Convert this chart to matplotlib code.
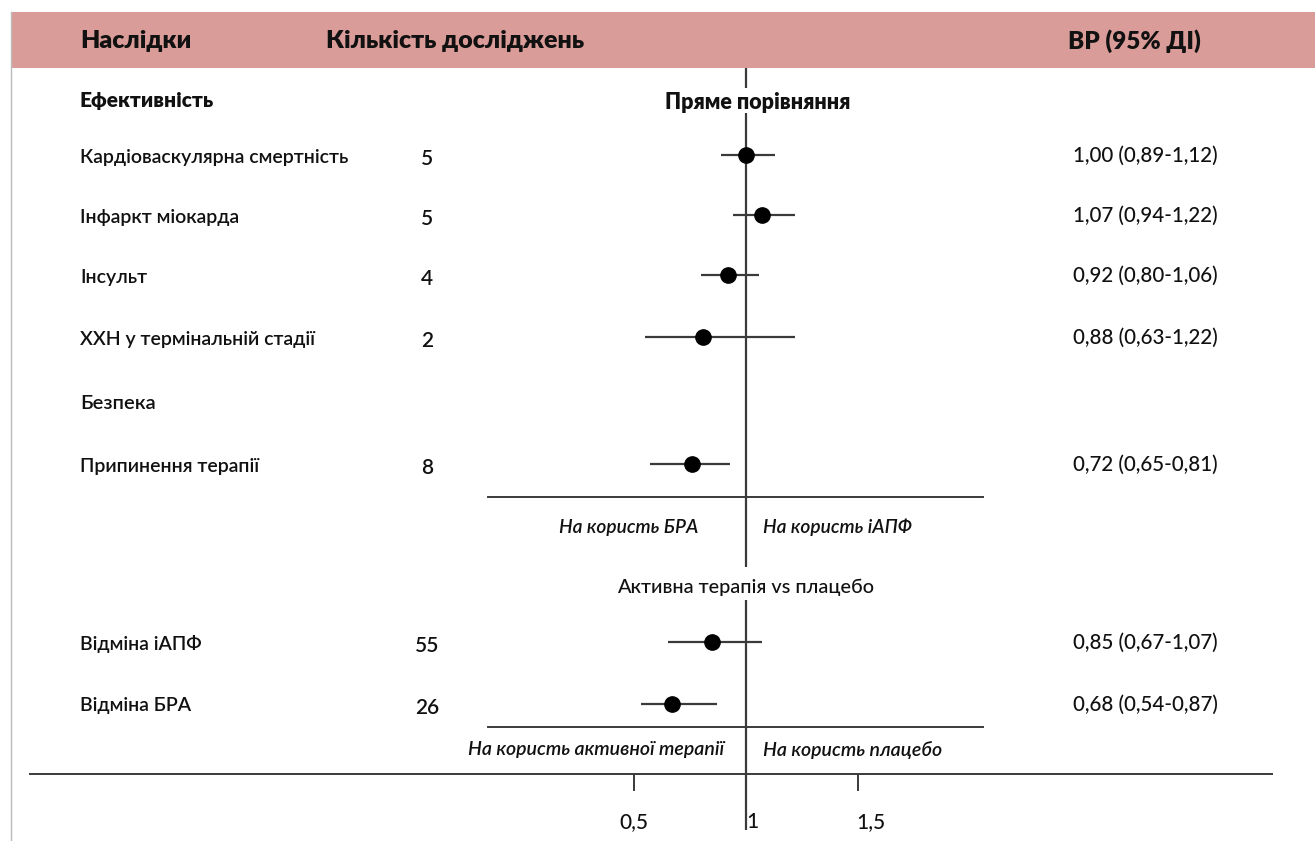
import matplotlib
matplotlib.use("Agg")
import matplotlib.pyplot as plt
import matplotlib.transforms as mtransforms
from matplotlib.patches import Rectangle

plt.rcParams['font.family'] = ['Lato', 'DejaVu Sans']

# ==============================
# Дані
# ==============================
outcomes = ['Кардіоваскулярна смертність', 'Інфаркт міокарда', 'Інсульт',
            'ХХН у термінальній стадії', 'Припинення терапії',
            'Відміна іАПФ', 'Відміна БРА']
n_studies = ['5', '5', '4', '2', '8', '55', '26']
rr_text = ['1,00 (0,89-1,12)', '1,07 (0,94-1,22)', '0,92 (0,80-1,06)',
           '0,88 (0,63-1,22)', '0,72 (0,65-0,81)', '0,85 (0,67-1,07)',
           '0,68 (0,54-0,87)']
# точки та інтервали так, як вони намальовані
est = [1.00, 1.07, 0.92, 0.81, 0.76, 0.85, 0.67]
lo = [0.89, 0.94, 0.80, 0.55, 0.57, 0.65, 0.53]
hi = [1.13, 1.22, 1.06, 1.22, 0.93, 1.07, 0.87]
tick_vals = [0.5, 1, 1.5]
tick_labels = ['0,5', '1', '1,5']

# ==============================
# Розмітка (пікселі)
# ==============================
W, H = 1315, 841
row_y = [155, 215, 275, 337, 464, 642, 704]
px_one = 746      # де лежить 1 на шкалі
px_unit = 224     # пікселів на одиницю ВР
line_c = '#3a3a3a'
txt_c = '#111111'

fig = plt.figure(figsize=(W / 100, H / 100), dpi=100)
lay = fig.add_axes([0, 0, 1, 1])
lay.set_xlim(0, W)
lay.set_ylim(H, 0)
lay.axis('off')

ax = fig.add_axes([0, 0, 1, 1], sharey=lay)
ax.set_xlim(1 - px_one / px_unit, 1 + (W - px_one) / px_unit)
ax.axis('off')
ax.patch.set_alpha(0)

# шапка
lay.add_patch(Rectangle((12, 12), W - 12, 56, color='#da9c98', lw=0))
lay.plot([11, 11], [12, H], color='#bbbbbb', lw=1)
lay.text(80, 41, 'Наслідки', fontsize=18, fontweight='heavy', va='center', color=txt_c)
lay.text(326, 41, 'Кількість досліджень', fontsize=18, fontweight='heavy', va='center', color=txt_c)
lay.text(1068, 41, 'ВР (95% ДІ)', fontsize=17.5, fontweight='heavy', va='center', color=txt_c)

lay.text(80, 100, 'Ефективність', fontsize=15, fontweight='heavy', va='center', color=txt_c)
lay.text(758, 102, 'Пряме порівняння', fontsize=15.5, fontweight='heavy', va='center', ha='center', color=txt_c)
lay.text(80, 403, 'Безпека', fontsize=14.5, fontweight='semibold', va='center', color=txt_c)
lay.text(746, 587, 'Активна терапія vs плацебо', fontsize=14.3, fontweight='medium',
         va='center', ha='center', color=txt_c)

for name, n, rr, y in zip(outcomes, n_studies, rr_text, row_y):
    lay.text(80, y + 2, name, fontsize=14, fontweight='semibold', va='center', color=txt_c)
    lay.text(427, y + 4, n, fontsize=15, fontweight='semibold', va='center', ha='center', color=txt_c)
    lay.text(1073, y + 1, rr, fontsize=14.8, fontweight='medium', va='center', color=txt_c)

# роздільні лінії та підписи
for y in (497, 727):
    lay.plot([488, 983], [y, y], color=line_c, lw=1.4)
lay.text(698, 527, 'На користь БРА', fontsize=13.8, style='italic', fontweight='semibold',
         ha='right', va='center', color=txt_c)
lay.text(763, 527, 'На користь іАПФ', fontsize=13.8, style='italic', fontweight='semibold',
         ha='left', va='center', color=txt_c)
lay.text(724, 750, 'На користь активної терапії', fontsize=14, style='italic', fontweight='semibold',
         ha='right', va='center', color=txt_c)
lay.text(763, 750, 'На користь плацебо', fontsize=14, style='italic', fontweight='semibold',
         ha='left', va='center', color=txt_c)

# вісь унизу
lay.plot([30, 1272], [774, 774], color=line_c, lw=1.4)

# лінія відсутності ефекту
ax.vlines([1, 1, 1], [68, 113, 600], [88, 567, 830], color=line_c, lw=1.6)

# довірчі інтервали та точки
ax.hlines(row_y, lo, hi, color=line_c, lw=1.6, zorder=2)
ax.plot(est, row_y, 'o', color='black', markersize=11, zorder=3)

# поділки
for v, lab in zip(tick_vals, tick_labels):
    if v != 1:
        ax.plot([v, v], [775, 790], color=line_c, lw=1.4)
    shift = {0.5: 0, 1: 6, 1.5: 13}[v]
    tr = ax.transData + mtransforms.ScaledTranslation(shift / 100, 0, fig.dpi_scale_trans)
    ax.text(v, 822, lab, fontsize=15, fontweight='medium', ha='center', va='center',
            color=txt_c, transform=tr)

fig.savefig('out.png', dpi=100)
